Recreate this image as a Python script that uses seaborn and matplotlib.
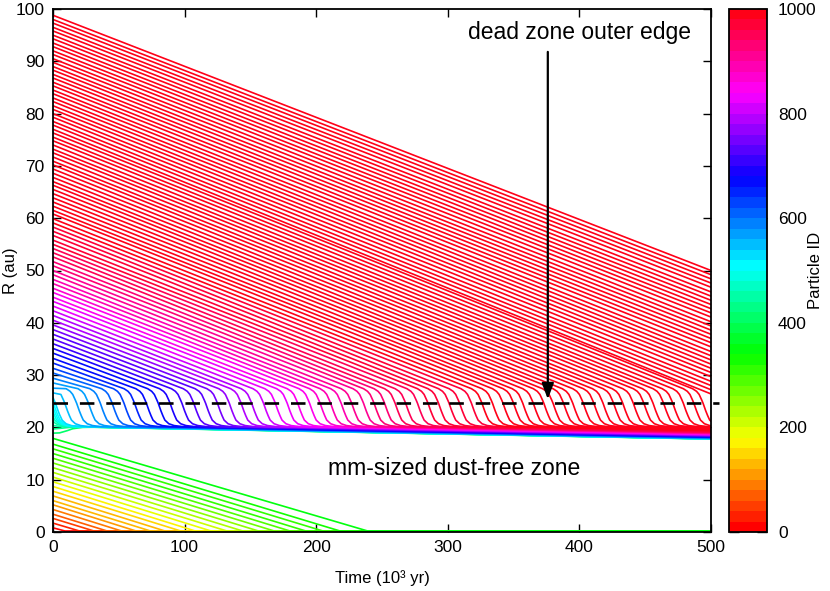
import numpy as np
import pandas as pd
import matplotlib
matplotlib.use("Agg")
import matplotlib.pyplot as plt
import seaborn as sns
from matplotlib.colors import Normalize
from matplotlib.cm import ScalarMappable

# ---------------- data ----------------
# particles inside the dust-free zone: drift straight onto the star
inner_r0 = [17.9, 16.8, 15.9, 15.0, 14.1, 13.2, 12.3, 11.4, 10.5, 9.6,
            8.7, 7.8, 6.9, 6.0, 5.2, 4.3, 3.4, 2.6, 1.7, 0.8]
inner_tend = [239, 218, 205, 192, 180, 168, 156, 144, 132, 120,
              108, 97, 85, 74, 63, 52, 41, 31, 20, 9]
inner_id = [358, 336, 318, 300, 282, 264, 246, 228, 210, 192,
            174, 156, 138, 120, 104, 86, 68, 52, 34, 16]
floor_r = 0.2

# particles starting just inside the dead-zone edge (fall at once)
trap_r0 = [25.7, 24.8, 23.9, 23.0, 22.1, 21.2, 20.4]
trap_id = [530, 515, 500, 485, 470, 455, 440]

# particles starting below the trap that rise onto it
rise_t = [0, 5, 10, 15, 22, 30]
rise_r = [[19.7, 19.8, 19.95, 20.05, 20.1, 20.1],
          [18.9, 18.95, 19.3, 19.75, 20.0, 20.05]]
rise_id = [420, 400]

# particles that reach the dead-zone outer edge before 500 kyr
caught_r0 = [26.6, 27.5, 28.5, 29.4, 30.4, 31.3, 32.3, 33.2, 34.2, 35.1,
             36.0, 36.9, 37.8, 38.7, 39.6, 40.5, 41.4, 42.3, 43.2, 44.1,
             44.9, 45.8, 46.6, 47.5, 48.3, 49.2, 50.0, 50.9, 51.7, 52.6,
             53.4, 54.2, 55.0, 55.8, 56.7, 57.5, 58.3, 59.1, 59.9, 60.8,
             61.5, 62.3, 63.1, 63.9, 64.7, 65.5, 66.3, 67.0, 67.8, 68.6,
             69.4, 70.2, 70.9, 71.7, 72.5, 73.2, 74.0, 74.8, 75.5, 76.3]
caught_tc = [9, 18, 27, 36, 45, 54, 62, 71, 80, 89,
             98, 107, 116, 125, 134, 143, 151, 160, 169, 178,
             186, 195, 203, 211, 219, 227, 236, 244, 252, 260,
             268, 277, 285, 293, 301, 309, 318, 326, 334, 342,
             350, 357, 365, 373, 380, 388, 395, 403, 411, 418,
             426, 433, 441, 449, 456, 464, 471, 479, 487, 494]
caught_id = [545, 560, 578, 595, 612, 628, 645, 660, 675, 690,
             705, 720, 735, 750, 765, 780, 795, 808, 820, 832,
             845, 858, 870, 882, 893, 904, 914, 924, 933, 941,
             948, 954, 960, 965, 970, 974, 978, 981, 984, 986,
             988, 989, 990, 991, 992, 993, 994, 995, 996, 997,
             997, 998, 998, 998, 999, 999, 999, 999, 1000, 1000]

# particles still drifting inward at 500 kyr
drift_r0 = [77.0, 77.8, 78.5, 79.3, 80.0, 80.8, 81.5, 82.3, 83.0, 83.8,
            84.5, 85.3, 86.0, 86.8, 87.5, 88.3, 89.0, 89.8, 90.5, 91.3,
            92.0, 92.8, 93.5, 94.3, 95.0, 95.8, 96.5, 97.3, 98.0, 98.8]
drift_rend = [26.4, 27.2, 28.0, 28.8, 29.7, 30.5, 31.3, 32.1, 32.9, 33.7,
              34.5, 35.4, 36.2, 37.0, 37.8, 38.6, 39.4, 40.2, 41.1, 41.9,
              42.7, 43.5, 44.3, 45.1, 45.9, 46.8, 47.6, 48.4, 49.2, 50.0]
drift_id = [1000] * 30

# S-shaped fall through the dead-zone edge (kyr from crossing, au)
fall_dt = [-8, -5, -3, -1.5, 0, 1.5, 3, 5, 8, 12, 18]
fall_r = [27.4, 26.9, 26.3, 25.5, 24.6, 23.5, 22.5, 21.4, 20.7, 20.35, 20.15]
settle_rate = 0.0048          # au / kyr once trapped
edge_r = 24.6                 # dead zone outer edge
t_max = 500

# ---------------- build trajectories ----------------
t_grid = np.arange(0, t_max + 0.01, 0.5)
frames = []
line_no = [0]


def add(r, pid):
    frames.append(pd.DataFrame({"t": t_grid, "R": r, "line": line_no[0], "ID": pid}))
    line_no[0] += 1


def settle(kt, kr):
    ts, rs = kt[-1], kr[-1]
    if ts < t_max:
        kt.append(t_max)
        kr.append(rs - settle_rate * (t_max - ts))
    return np.interp(t_grid, kt, kr)


def trapped(r0, tc):
    kt, kr = [0.0], [r0]
    for dt, rr in zip(fall_dt, fall_r):
        if tc + dt > 0 and rr < r0:
            kt.append(tc + dt)
            kr.append(rr)
    return settle(kt, kr)


for r0, te, pid in zip(inner_r0, inner_tend, inner_id):
    add(np.interp(t_grid, [0, te, t_max], [r0, floor_r, floor_r]), pid)

for rr, pid in zip(rise_r, rise_id):
    add(settle(list(rise_t), list(rr)), pid)

fr_rev, fdt_rev = fall_r[::-1], fall_dt[::-1]
for r0, pid in zip(trap_r0, trap_id):
    tc = -np.interp(r0, fr_rev, fdt_rev)
    add(trapped(r0, tc), pid)

for r0, tc, pid in zip(caught_r0, caught_tc, caught_id):
    add(trapped(r0, tc), pid)

for r0, re, pid in zip(drift_r0, drift_rend, drift_id):
    add(np.interp(t_grid, [0, t_max], [r0, re]), pid)

df = pd.concat(frames, ignore_index=True)

# ---------------- plot ----------------
sns.set_theme(style="ticks")
plt.rcParams["font.family"] = ["Liberation Sans", "DejaVu Sans"]

W, H = 830, 591
fig = plt.figure(figsize=(W / 100, H / 100), dpi=100)
ax = fig.add_axes([53 / W, 1 - 532 / H, (711 - 53) / W, (532 - 9) / H])
cax = fig.add_axes([729 / W, 1 - 532 / H, 38 / W, (532 - 9) / H])

cmap = plt.get_cmap("hsv", 50)
norm = Normalize(0, 1000)

sns.lineplot(data=df, x="t", y="R", hue="ID", units="line", estimator=None,
             palette=cmap, hue_norm=norm, legend=False, sort=False,
             lw=1.2, ax=ax)

ax.plot([0, 506], [edge_r, edge_r], color="black", lw=1.9,
        dashes=(5.5, 4.5), clip_on=False, zorder=5)

ax.annotate("", xy=(376, 25.4), xytext=(376, 91.8),
            arrowprops=dict(arrowstyle="-|>,head_length=0.95,head_width=0.36",
                            color="black", lw=1.6, shrinkA=0, shrinkB=0,
                            mutation_scale=10), zorder=6)
ax.text(400, 95.5, "dead zone outer edge", ha="center", va="center",
        fontsize=16.5, color="black")
ax.text(305, 12.2, "mm-sized dust-free zone", ha="center", va="center",
        fontsize=16.5, color="black")

ax.set_xlim(0, 500)
ax.set_ylim(0, 100)
ax.set_xticks([0, 100, 200, 300, 400, 500])
ax.set_yticks(np.arange(0, 101, 10))
ax.set_xlabel("Time (10³ yr)", fontsize=12, color="black", va="center")
ax.set_ylabel("R (au)", fontsize=12, color="black", va="center")
ax.xaxis.set_label_coords(0.5, -(578 - 532) / 523)
ax.yaxis.set_label_coords(-(53 - 11) / 658, 0.5)
ax.tick_params(direction="in", length=6, width=1, top=True, right=True,
               labelsize=12.5, colors="black", pad=6)
for s in ax.spines.values():
    s.set_visible(True)
    s.set_color("black")
    s.set_linewidth(1.3)

cb = fig.colorbar(ScalarMappable(norm=norm, cmap=cmap), cax=cax,
                  ticks=[0, 200, 400, 600, 800, 1000])
cb.outline.set_linewidth(1.3)
cb.outline.set_edgecolor("black")
cax.tick_params(direction="in", left=True, right=True, length=7, width=1,
                labelsize=12.5, colors="black", pad=8)
cb.set_label("Particle ID", fontsize=12, color="black", va="center")
cax.yaxis.set_label_coords((815 - 729) / 38, 0.5)

fig.savefig("out.png", dpi=100, facecolor="white")
